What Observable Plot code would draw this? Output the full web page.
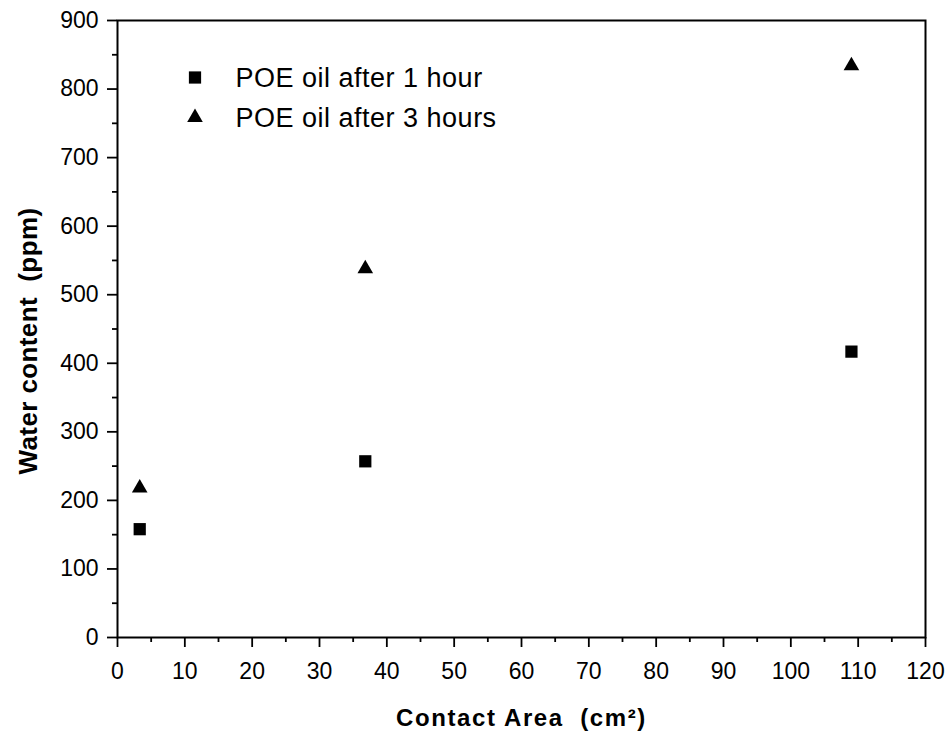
<!DOCTYPE html>
<html>
<head>
<meta charset="utf-8">
<script src="https://cdn.jsdelivr.net/npm/d3@7"></script>
<script src="https://cdn.jsdelivr.net/npm/@observablehq/plot@0.6"></script>
<style>
  html, body { margin: 0; padding: 0; background: #fff; }
  #chart svg { font-family: Arial, "Liberation Sans", sans-serif; }
</style>
</head>
<body>
<div id="chart"></div>
<script>
// ---- data ----
const contactArea = [3.3, 36.8, 109.0];          // cm²
const water1h = [158, 257, 417];                   // ppm, POE oil after 1 hour
const water3h = [218, 538, 834];                   // ppm, POE oil after 3 hours
const seriesNames = ["POE oil after 1 hour", "POE oil after 3 hours"];
const seriesSymbols = ["square", "triangle"];
const xMajorTicks = [0, 10, 20, 30, 40, 50, 60, 70, 80, 90, 100, 110, 120];
const xMinorTicks = [5, 15, 25, 35, 45, 55, 65, 75, 85, 95, 105, 115];
const yMajorTicks = [0, 100, 200, 300, 400, 500, 600, 700, 800, 900];
const yMinorTicks = [50, 150, 250, 350, 450, 550, 650, 750, 850];
const xTitle = "Contact Area  (cm\u00B2)";
const yTitle = "Water content  (ppm)";

const rows1h = contactArea.map((a, i) => ({area: a, water: water1h[i]}));
const rows3h = contactArea.map((a, i) => ({area: a, water: water3h[i]}));

const symbolR = {square: 6.9, triangle: 5.8};
const legendDy = [57, 97];

const chart = Plot.plot({
  width: 950,
  height: 745,
  marginLeft: 117,
  marginRight: 25,
  marginTop: 20,
  marginBottom: 108,
  style: {background: "#fff", color: "#000", fontFamily: "Arial, 'Liberation Sans', sans-serif"},
  x: {domain: [0, 120]},
  y: {domain: [0, 900]},
  marks: [
    Plot.frame({stroke: "#000", strokeWidth: 2}),
    Plot.axisX({ticks: xMinorTicks, tickSize: 5, tickFormat: () => "", strokeWidth: 1.8, label: null}),
    Plot.axisX({ticks: xMajorTicks, tickSize: 10, tickPadding: 15, fontSize: 23, strokeWidth: 1.8, label: null, tickFormat: d => String(d)}),
    Plot.axisY({ticks: yMinorTicks, tickSize: 5, tickFormat: () => "", strokeWidth: 1.8, label: null}),
    Plot.axisY({ticks: yMajorTicks, tickSize: 10, tickPadding: 9, fontSize: 23, strokeWidth: 1.8, label: null, tickFormat: d => String(d)}),
    Plot.dot(rows1h, {x: "area", y: "water", symbol: "square", r: symbolR.square, fill: "#000", stroke: null}),
    Plot.dot(rows3h, {x: "area", y: "water", symbol: "triangle", r: symbolR.triangle, fill: "#000", stroke: null}),
    ...seriesNames.map((name, i) =>
      Plot.dot([name], {frameAnchor: "top-left", dx: 77.5, dy: legendDy[i], symbol: seriesSymbols[i], r: symbolR[seriesSymbols[i]], fill: "#000", stroke: null})
    ),
    ...seriesNames.map((name, i) =>
      Plot.text([name], {text: d => d, frameAnchor: "top-left", dx: 118, dy: legendDy[i] + 1, textAnchor: "start", lineAnchor: "middle", fontSize: 27, fill: "#000"})
    ),
    Plot.text([xTitle], {text: d => d, frameAnchor: "bottom", dy: 81, textAnchor: "middle", lineAnchor: "middle", fontSize: 24, fontWeight: "bold", fill: "#000"}),
    Plot.text([yTitle], {text: d => d, frameAnchor: "left", dx: -89, dy: 12, rotate: -90, textAnchor: "middle", lineAnchor: "middle", fontSize: 26, fontWeight: "bold", fill: "#000"})
  ]
});
// widen the lettering a little, as in the (horizontally stretched) scan
const spacing = new Map([[xTitle, 1.6], [yTitle, 0.4], [seriesNames[0], 0.5], [seriesNames[1], 0.5]]);
d3.select(chart).selectAll("text").each(function() {
  const s = spacing.get(this.textContent);
  if (s != null) this.setAttribute("letter-spacing", s);
});
document.getElementById("chart").appendChild(chart);
</script>
</body>
</html>
